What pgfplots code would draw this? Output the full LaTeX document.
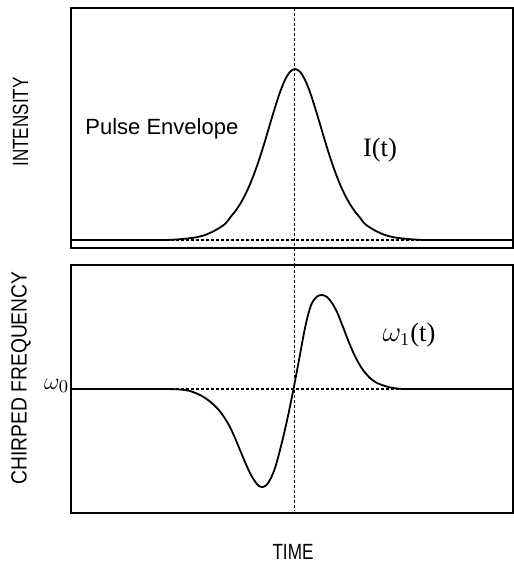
\documentclass[border=0pt]{standalone}
\usepackage{fontspec}
\setmainfont{Liberation Sans}
\newfontfamily\serifI{Liberation Serif}
\usepackage{graphicx}
\usepackage{pgfplots}
\pgfplotsset{compat=1.18}
\tikzset{refdash/.style={black, line width=0.55pt, dash pattern=on 1.5pt off 1pt}}
\begin{document}
\begin{tikzpicture}
\useasboundingbox (0,0) rectangle (257pt,281.5pt);
% ---------- top panel: intensity ----------
\begin{axis}[at={(35.5pt,157.5pt)}, anchor=south west, scale only axis,
  width=221pt, height=120pt, xmin=71, xmax=513, ymin=-8, ymax=232,
  ticks=none, clip=false, axis line style={line width=1pt}]
\addplot[refdash] coordinates {(71,0) (513,0)};
\addplot[refdash] coordinates {(294.5,232) (294.5,-25)};
\addplot[black, line width=0.9pt, smooth, tension=0.5] coordinates {
(71,0) (110,0) (140,0) (165,0) (180,0.8) (195,2.5) (205,5) (215,9.5) (225,16)
(230,22.4) (235,28.4) (240,35.8) (245,44.9) (250,55.7) (255,68.5) (260,83.0)
(265,99.0) (270,115.9) (275,132.5) (280,147.8) (285,160.1) (290,168.2) (295,171)
(300,168.2) (305,160.1) (310,147.8) (315,132.5) (320,115.9) (325,99.0) (330,83.0)
(335,68.5) (340,55.7) (345,44.9) (350,35.8) (355,28.4) (360,22.4) (365,16)
(375,9.5) (385,5) (395,2.5) (410,0.8) (425,0) (450,0) (480,0) (513,0)};
\end{axis}
% ---------- bottom panel: chirped frequency ----------
\begin{axis}[at={(35.5pt,25pt)}, anchor=south west, scale only axis,
  width=221pt, height=124pt, xmin=71, xmax=513, ymin=-124, ymax=124,
  xtick=\empty, ytick={0}, yticklabels={$\omega_0$}, major tick length=0pt,
  yticklabel style={font=\fontsize{12.5}{15}\selectfont, inner sep=0.8pt, yshift=1.5pt},
  clip=false, axis line style={line width=1pt}]
\addplot[refdash] coordinates {(71,0) (513,0)};
\addplot[refdash] coordinates {(294.5,124) (294.5,-122)};
\addplot[black, line width=0.9pt, smooth, tension=0.5] coordinates {
(71,0) (110,0) (140,0) (165,0) (180,-0.5) (190,-2) (200,-6) (208,-11) (217,-19) (224,-28)
(230,-38) (235,-49) (240,-61) (245,-73) (250,-84) (255,-92.5) (259,-97) (263,-98)
(267,-95.5) (271,-89) (275,-79) (279,-65) (283,-49) (288,-27) (293.5,0) (299,29)
(304,56) (308,74) (312,86) (317,92.5) (322,94) (327,92) (332,86) (337,77) (343,62)
(348,49) (353,37) (358,27) (363,19) (370,11) (377,6) (385,3) (393,1) (405,0)
(440,0) (480,0) (513,0)};
\end{axis}
% ---------- labels ----------
\node[rotate=90, inner sep=0pt, font=\fontsize{11}{13}\selectfont] at (10.25pt,220.5pt) {\scalebox{0.775}[1]{INTENSITY}};
\node[rotate=90, inner sep=0pt, font=\fontsize{11}{13}\selectfont] at (10.5pt,92.5pt) {\scalebox{0.875}[1]{CHIRPED FREQUENCY}};
\node[inner sep=0pt, font=\fontsize{11}{13}\selectfont] at (146.5pt,5.75pt) {\scalebox{0.78}[1]{TIME}};
\node[anchor=base west, inner sep=0pt, font=\fontsize{11}{13}\selectfont] at (42.5pt,214pt) {Pulse Envelope};
\node[inner sep=0pt, font=\serifI\fontsize{13.3}{15}\selectfont] at (190pt,206.5pt) {I(t)};
\node[inner sep=0pt, font=\serifI\fontsize{13.3}{15}\selectfont] at (204.5pt,114pt) {$\omega_1$(t)};
\end{tikzpicture}
\end{document}
